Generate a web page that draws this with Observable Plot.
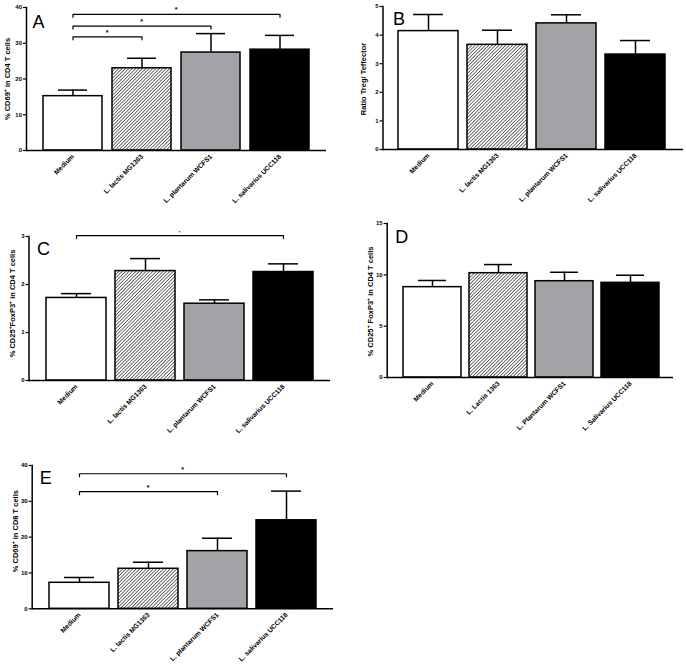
<!DOCTYPE html>
<html><head><meta charset="utf-8">
<script src="https://cdn.jsdelivr.net/npm/d3@7"></script>
<script src="https://cdn.jsdelivr.net/npm/@observablehq/plot@0.6"></script>
<style>
body{margin:0;background:#fff;}
#root{position:relative;width:686px;height:667px;overflow:hidden;background:#fff;}
.panel{position:absolute;}
</style>
</head><body>
<svg width="0" height="0" style="position:absolute"><defs>
<pattern id="hatch" patternUnits="userSpaceOnUse" width="2.4" height="2.4" patternTransform="rotate(45)">
<rect width="2.4" height="2.4" fill="white"/><line x1="0" y1="0" x2="0" y2="2.4" stroke="black" stroke-width="1.1"/>
</pattern></defs></svg>
<div id="root"></div>
<script>
// ---- data ----
const categories = ["Medium", "L. lactis MG1363", "L. plantarum WCFS1", "L. salivarius UCC118"];
const categoriesD = ["Medium", "L. Lactis 1363", "L. Plantarum WCFS1", "L. Salivarius UCC118"];
const fills = ["white", "url(#hatch)", "#a3a3a7", "black"];

const meanA = [15.2, 23.0, 27.4, 28.2];
const errA  = [1.7, 2.8, 5.3, 4.0];
const sigA  = [
  {from: "Medium", to: "L. lactis MG1363", y: 31.8},
  {from: "Medium", to: "L. plantarum WCFS1", y: 34.8},
  {from: "Medium", to: "L. salivarius UCC118", y: 38.1}
];
const meanB = [4.14, 3.66, 4.41, 3.32];
const errB  = [0.58, 0.51, 0.30, 0.49];
const meanC = [1.72, 2.28, 1.60, 2.26];
const errC  = [0.09, 0.26, 0.08, 0.17];
const sigC  = [{from: "Medium", to: "L. salivarius UCC118", y: 3.02}];
const meanD = [8.8, 10.16, 9.38, 9.22];
const errD  = [0.65, 0.84, 0.87, 0.74];
const meanE = [7.26, 11.17, 16.1, 24.7];
const errE  = [1.48, 1.83, 3.6, 8.15];
const sigE  = [
  {from: "Medium", to: "L. plantarum WCFS1", y: 32.7},
  {from: "Medium", to: "L. salivarius UCC118", y: 37.7}
];

const ticksA = [0, 10, 20, 30, 40];
const ticksB = [0, 1, 2, 3, 4, 5];
const ticksC = [0, 1, 2, 3];
const ticksD = [0, 5, 10, 15];
const ticksE = [0, 10, 20, 30, 40];

const FONT = "'Liberation Sans', Arial, Helvetica, sans-serif";

function buildPanel(p) {
  const rows = p.cats.map((c, i) => ({cat: c, mean: p.mean[i], upper: p.mean[i] + p.err[i], fill: fills[i]}));
  const drop = p.yMax * 0.021;
  const bracketPts = (p.sig || []).flatMap((s, k) => [
    {k, cat: s.from, y: s.y - drop}, {k, cat: s.from, y: s.y},
    {k, cat: s.to, y: s.y}, {k, cat: s.to, y: s.y - drop}
  ]);
  const plot = Plot.plot({
    width: p.width, height: p.height,
    marginLeft: p.ml, marginRight: p.mr, marginTop: p.mt, marginBottom: p.mb,
    style: {background: "transparent", overflow: "visible", fontFamily: FONT, fontWeight: "bold", color: "black"},
    x: {domain: p.cats, paddingInner: p.pi, paddingOuter: p.po, align: p.align, axis: null},
    y: {domain: [0, p.yMax], axis: null},
    color: {type: "identity"},
    marks: [
      Plot.ruleX(rows, {x: "cat", y1: "mean", y2: "upper", stroke: "black", strokeWidth: 1.5}),
      Plot.tickY(rows, {x: "cat", y: "upper", stroke: "black", strokeWidth: 1.5, insetLeft: 15, insetRight: 15}),
      Plot.barY(rows, {x: "cat", y: "mean", fill: "fill", stroke: "black", strokeWidth: 1.5}),
      Plot.line(bracketPts, {x: "cat", y: "y", z: "k", stroke: "black", strokeWidth: 1.2}),
      Plot.axisY({ticks: p.yTicks, tickFormat: d => String(d), tickSize: 3, tickPadding: 1.5, fontSize: 6, label: null, strokeWidth: 1.2}),
      Plot.axisX({tickRotate: -45, tickSize: 0, tickPadding: 5, fontSize: 6.7, label: null}),
      Plot.ruleY([0], {stroke: "black", strokeWidth: 1.5}),
      Plot.frame({anchor: "left", stroke: "black", strokeWidth: 1.5}),
      Plot.text([p.yLabel], {text: d => d, frameAnchor: "left", rotate: -90, dx: p.ldx, dy: p.ldy, fontSize: 7.5, lineAnchor: "middle", textAnchor: "middle"}),
      Plot.text([p.letter], {text: d => d, frameAnchor: "top-left", textAnchor: "start", lineAnchor: "top", dx: p.tdx, dy: p.tdy, fontSize: 18, fontWeight: "normal"})
    ]
  });
  const xs = plot.scale("x"), ys = plot.scale("y");
  const svg = d3.select(plot);
  for (const s of (p.sig || [])) {
    const x = (xs.apply(s.from) + xs.apply(s.to)) / 2 + xs.bandwidth / 2;
    svg.append("text")
      .attr("x", x).attr("y", ys.apply(s.y) - 1.5)
      .attr("text-anchor", "middle")
      .attr("font-size", p.starSize)
      .attr("font-weight", "bold")
      .attr("fill", "black")
      .text("*");
  }
  const div = document.createElement("div");
  div.className = "panel";
  div.style.left = p.left + "px";
  div.style.top = p.top + "px";
  div.appendChild(plot);
  document.getElementById("root").appendChild(div);
}

buildPanel({cats: categories, mean: meanA, err: errA, sig: sigA, yMax: 40, yTicks: ticksA,
  yLabel: "% CD69⁺ in CD4 T cells", letter: "A",
  left: 0, top: 0, width: 340, height: 230, ml: 26, mr: 14, mt: 7, mb: 80,
  pi: 0.14, po: 0.22, align: 0.5, ldx: -19, ldy: 0, tdx: 6, tdy: 8, starSize: 7});

buildPanel({cats: categories, mean: meanB, err: errB, yMax: 5, yTicks: ticksB,
  yLabel: "Ratio Treg/ Teffector", letter: "B",
  left: 340, top: 0, width: 346, height: 230, ml: 42.5, mr: 3, mt: 6, mb: 81,
  pi: 0.125, po: 0.22, align: 0.48, ldx: -19.5, ldy: 1, tdx: 10, tdy: 6});

buildPanel({cats: categories, mean: meanC, err: errC, sig: sigC, yMax: 3, yTicks: ticksC,
  yLabel: "% CD25⁺FoxP3⁺ in CD4 T cells", letter: "C",
  left: 0, top: 220, width: 340, height: 230, ml: 28.5, mr: 10, mt: 16, mb: 70,
  pi: 0.125, po: 0.23, align: 0.5, ldx: -16.5, ldy: -5, tdx: 8, tdy: 6, starSize: 4});

buildPanel({cats: categoriesD, mean: meanD, err: errD, yMax: 15, yTicks: ticksD,
  yLabel: "% CD25⁺ FoxP3⁺ in CD4 T cells", letter: "D",
  left: 340, top: 220, width: 346, height: 230, ml: 46.7, mr: 13, mt: 3, mb: 73,
  pi: 0.125, po: 0.225, align: 0.54, ldx: -16.7, ldy: 1, tdx: 8, tdy: 7});

buildPanel({cats: categories, mean: meanE, err: errE, sig: sigE, yMax: 40, yTicks: ticksE,
  yLabel: "% CD69⁺ in CD8 T cells", letter: "E",
  left: 0, top: 450, width: 340, height: 217, ml: 31.7, mr: 7, mt: 15, mb: 58.7,
  pi: 0.125, po: 0.225, align: 0.52, ldx: -16.7, ldy: -6, tdx: 7.5, tdy: 6, starSize: 7});
</script>
</body></html>
